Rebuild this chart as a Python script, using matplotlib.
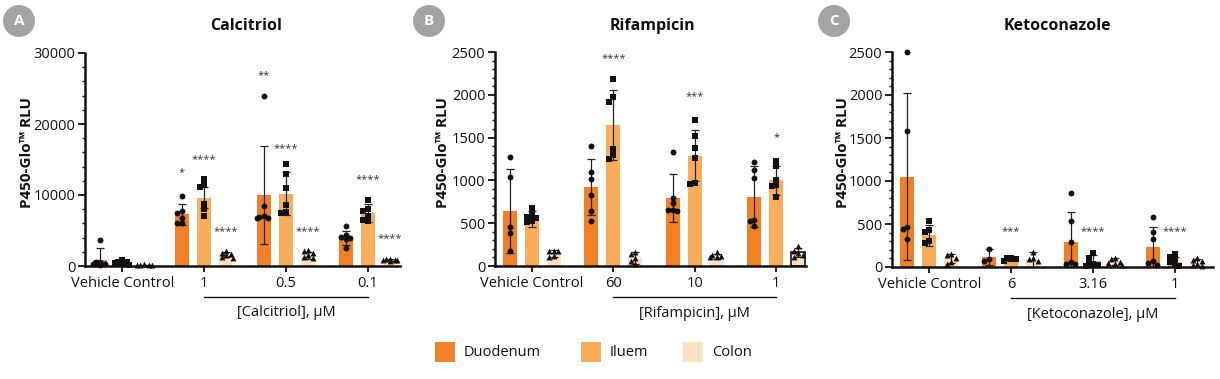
import matplotlib
matplotlib.use("Agg")
import matplotlib.pyplot as plt
from matplotlib.patches import Circle, Rectangle
from matplotlib.transforms import IdentityTransform, blended_transform_factory
from matplotlib.ticker import MultipleLocator
import numpy as np

plt.rcParams['font.family'] = ['Open Sans', 'DejaVu Sans']

# ---------------- data ----------------
series = ["Duodenum", "Iluem", "Colon"]
colors = ["#F18024", "#F9AD5A", "#FDE0C0"]
markers = ["o", "s", "^"]

# Panel A: Calcitriol
A_groups = ["Vehicle Control", "1", "0.5", "0.1"]
A_duo_mean = [900, 7300, 10000, 3900]
A_duo_sd = [1600, 1500, 6900, 1000]
A_duo_pts = [[3700, 600, 500, 300, 250, 200], [9900, 7700, 7500, 6800, 6100, 6000],
             [24000, 8500, 7000, 6900, 6800, 6700], [5600, 4300, 4100, 4000, 3800, 2500]]
A_ile_mean = [450, 9600, 10200, 7500]
A_ile_sd = [250, 1500, 3000, 1300]
A_ile_pts = [[800, 600, 500, 400, 300, 200], [12200, 11400, 11100, 8700, 8000, 7000],
             [14300, 13000, 11000, 8600, 7600, 7400], [9300, 8000, 7800, 7000, 6500, 6300]]
A_col_mean = [150, 1600, 1500, 850]
A_col_sd = [60, 400, 450, 100]
A_col_pts = [[250, 200, 150, 100, 80], [2100, 1900, 1700, 1500, 1200, 1100],
             [2200, 2100, 1800, 1500, 1200, 1100], [1000, 950, 900, 850, 800, 750]]
# (group index, series index, label, y)
A_stars = [(1, 0, "*", 13200), (1, 1, "****", 15000), (1, 2, "****", 4900),
           (2, 0, "**", 26800), (2, 1, "****", 16500), (2, 2, "****", 4900),
           (3, 1, "****", 12200), (3, 2, "****", 3800)]

# Panel B: Rifampicin
B_groups = ["Vehicle Control", "60", "10", "1"]
B_duo_mean = [640, 920, 790, 810]
B_duo_sd = [490, 330, 280, 360]
B_duo_pts = [[1270, 1040, 460, 380, 170], [1400, 1100, 1020, 830, 640, 530],
             [1330, 800, 740, 660, 650, 640], [1220, 1120, 1030, 540, 520, 470]]
B_ile_mean = [550, 1650, 1290, 1000]
B_ile_sd = [90, 410, 300, 170]
B_ile_pts = [[680, 590, 570, 560, 520, 510], [2190, 1970, 1920, 1370, 1300, 1250],
             [1700, 1520, 1380, 1260, 970, 960], [1230, 1170, 1010, 950, 940, 810]]
B_col_mean = [150, 90, 110, 160]
B_col_sd = [40, 70, 30, 50]
B_col_pts = [[180, 175, 170, 120, 110], [160, 140, 90, 60, 20],
             [160, 130, 120, 110, 100], [230, 180, 150, 130, 100]]
B_stars = [(1, 1, "****", 2420), (2, 1, "***", 1975), (3, 1, "*", 1495)]

# Panel C: Ketoconazole
C_groups = ["Vehicle Control", "6", "3.16", "1"]
C_duo_mean = [1050, 115, 290, 235]
C_duo_sd = [970, 95, 350, 235]
C_duo_pts = [[2500, 1580, 470, 440, 330], [210, 90, 70],
             [860, 530, 290, 60, 40, 40], [580, 410, 330, 70, 50, 20]]
C_ile_mean = [370, 85, 70, 60]
C_ile_sd = [120, 20, 70, 55]
C_ile_pts = [[530, 430, 410, 300, 280], [110, 105, 95, 70],
             [160, 110, 40, 30, 20, 10], [150, 120, 80, 60, 20, 10]]
C_col_mean = [100, 80, 60, 50]
C_col_sd = [50, 90, 40, 40]
C_col_pts = [[150, 140, 100, 60, 40], [180, 100, 90, 70],
             [100, 90, 60, 50, 30, 20], [100, 80, 70, 40, 20, 10]]
C_stars = [(1, 1, "***", 410), (2, 1, "****", 410), (3, 1, "****", 410)]

panels = [
    dict(letter="A", title="Calcitriol", groups=A_groups, unit="[Calcitriol], μM",
         means=[A_duo_mean, A_ile_mean, A_col_mean], sds=[A_duo_sd, A_ile_sd, A_col_sd],
         pts=[A_duo_pts, A_ile_pts, A_col_pts], stars=A_stars,
         ymax=30000, major=10000, minor=2000, rect=[85, 53, 400, 266], xr=0.45,
         circ=(19, 21), ylab_x=27, title_x=246),
    dict(letter="B", title="Rifampicin", groups=B_groups, unit="[Rifampicin], μM",
         means=[B_duo_mean, B_ile_mean, B_col_mean], sds=[B_duo_sd, B_ile_sd, B_col_sd],
         pts=[B_duo_pts, B_ile_pts, B_col_pts], stars=B_stars,
         ymax=2500, major=500, minor=100, rect=[495, 52, 806, 266], xr=0.35,
         circ=(429, 21), ylab_x=443, title_x=652),
    dict(letter="C", title="Ketoconazole", groups=C_groups, unit="[Ketoconazole], μM",
         means=[C_duo_mean, C_ile_mean, C_col_mean], sds=[C_duo_sd, C_ile_sd, C_col_sd],
         pts=[C_duo_pts, C_ile_pts, C_col_pts], stars=C_stars,
         ymax=2500, major=500, minor=100, rect=[892, 52, 1213, 267], xr=0.72,
         circ=(834, 21), ylab_x=843, title_x=1057),
]

W, H = 1220, 379
fig = plt.figure(figsize=(W / 100, H / 100), dpi=100)

GSTEP = 3.7
BW = 0.63


def swarm_x(ax, xc, vals, d=4.5):
    """Simple beeswarm limited to roughly the bar width."""
    tr = ax.transData
    inv = tr.inverted()
    placed = []
    xs = []
    for v in vals:
        px, py = tr.transform((xc, v))
        best, best_score = px, -1.0
        for k in [0, -1, 1, -1.6, 1.6]:
            cx = px + k * d
            md = min([np.hypot(cx - qx, py - qy) for qx, qy in placed] + [1e9])
            if md >= d:
                best = cx
                break
            if md > best_score:
                best, best_score = cx, md
        placed.append((best, py))
        xs.append(inv.transform((best, py))[0])
    return xs


for p in panels:
    l, t, r, b = p["rect"]
    ax = fig.add_axes([l / W, 1 - b / H, (r - l) / W, (b - t) / H])
    ng = len(p["groups"])
    last = (ng - 1) * GSTEP + 2
    ax.set_xlim(-0.68, last + p["xr"])
    ax.set_ylim(0, p["ymax"])
    for s in range(3):
        xs = [g * GSTEP + s for g in range(ng)]
        bars = ax.bar(xs, p["means"][s], width=BW, color=colors[s], zorder=1)
        if p["letter"] == "B" and s == 2:
            bars[-1].set_edgecolor("#111111")
            bars[-1].set_linewidth(1.2)
        ax.errorbar(xs, p["means"][s], yerr=p["sds"][s], fmt="none", ecolor="#222222",
                    elinewidth=0.9, capsize=3, capthick=0.9, zorder=2)
    for s in range(3):
        for g in range(ng):
            xc = g * GSTEP + s
            vals = p["pts"][s][g]
            px = swarm_x(ax, xc, vals)
            ax.scatter(px, vals, marker=markers[s], s=18 if s != 1 else 16,
                       color="#111111", zorder=3, linewidths=0, clip_on=False)
    for (g, s, lab, y) in p["stars"]:
        ax.text(g * GSTEP + s, y, lab, ha="center", va="center", fontsize=8,
                color="#333333")
    for side in ["top", "right"]:
        ax.spines[side].set_visible(False)
    for side in ["left", "bottom"]:
        ax.spines[side].set_linewidth(1.8)
        ax.spines[side].set_color("#111111")
    ax.yaxis.set_major_locator(MultipleLocator(p["major"]))
    ax.yaxis.set_minor_locator(MultipleLocator(p["minor"]))
    ax.tick_params(axis="y", which="major", length=5, width=1.3, labelsize=10.5, pad=2,
                   colors="#111111")
    ax.tick_params(axis="y", which="minor", length=2.5, width=1.0, colors="#111111")
    ax.set_xticks([g * GSTEP + 1 for g in range(ng)])
    ax.set_xticklabels(p["groups"])
    ax.tick_params(axis="x", length=4, width=1.3, labelsize=10.5, pad=3, colors="#111111")
    # bracket under dose groups
    tr = blended_transform_factory(ax.transData, ax.transAxes)
    ax.plot([GSTEP + 1, (ng - 1) * GSTEP + 1], [-0.146, -0.146], transform=tr,
            color="#111111", lw=1.0, clip_on=False)
    ax.text(((GSTEP + 1) + ((ng - 1) * GSTEP + 1)) / 2, -0.22, p["unit"], transform=tr,
            ha="center", va="center", fontsize=10.5, color="#111111")
    # title, y label, letter badge
    fig.text(p["title_x"] / W, 1 - 26 / H, p["title"], ha="center", va="center",
             fontsize=11.5, fontweight="bold", color="#111111")
    fig.text(p["ylab_x"] / W, 1 - 152 / H, "P450-Glo™ RLU", ha="center", va="center",
             rotation=90, fontsize=11, fontweight="bold", color="#111111")
    cx, cy = p["circ"]
    fig.add_artist(Circle((cx, H - cy), 16, transform=IdentityTransform(),
                          facecolor="#A3A3A3", edgecolor="none"))
    fig.text(cx / W, 1 - cy / H, p["letter"], ha="center", va="center",
             fontsize=11, fontweight="bold", color="white")

# legend
leg_x = [435, 581, 683]
for i, name in enumerate(series):
    x0 = leg_x[i]
    fig.add_artist(Rectangle((x0, H - 362), 20, 20, transform=IdentityTransform(),
                             facecolor=colors[i], edgecolor="none"))
    fig.text((x0 + 29) / W, 1 - 352 / H, name, ha="left", va="center",
             fontsize=10.5, color="#111111")

fig.savefig("out.png", dpi=100)
